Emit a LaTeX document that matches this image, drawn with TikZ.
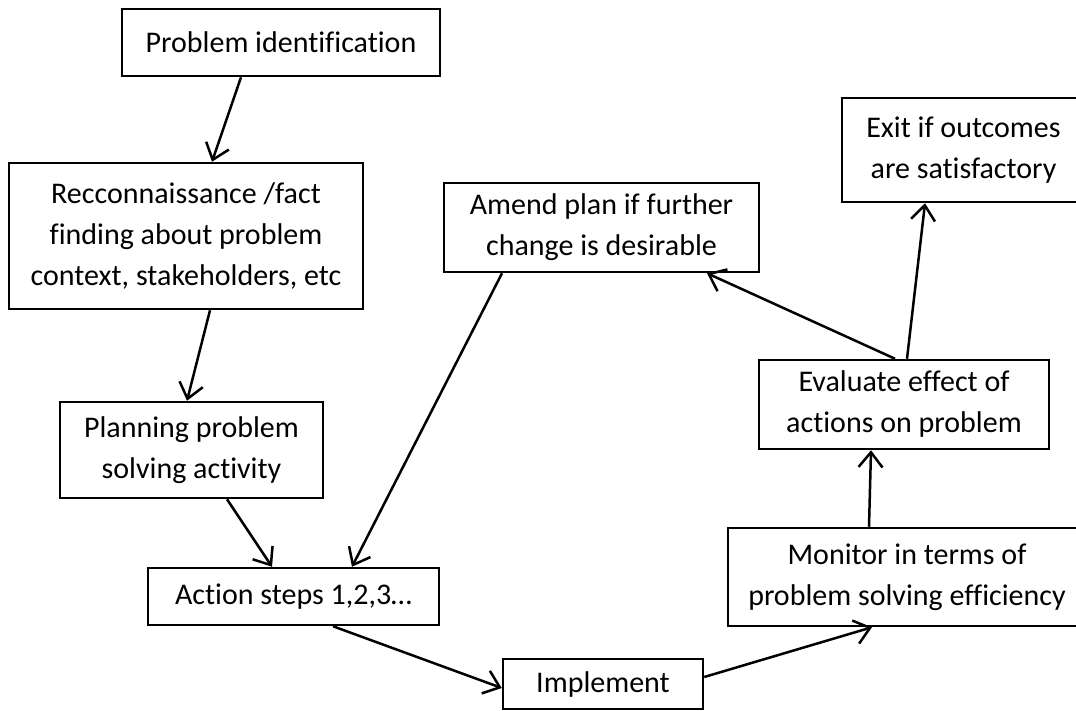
\documentclass[tikz,border=0pt]{standalone}
\usepackage{fontspec}
\setmainfont{Carlito}[Ligatures={NoCommon}]
\usepackage{tikz}
\usetikzlibrary{arrows.meta, positioning}

\begin{document}
\begin{tikzpicture}[
        x=1pt, y=-1pt,
        stage/.style={
            rectangle,
            draw=black,
            line width=2.5pt,
            inner sep=0pt,
            align=center,
            font=\fontsize{30}{41}\selectfont
        },
        arrow/.style={
            line width=2.5pt,
            -{Straight Barb[length=15pt, width=24pt, line width=2.5pt]}
        }
    ]
    \clip (0,0) rectangle (1076,711);

    % Nodes
    \node (probid) [stage, minimum width=318pt, minimum height=67pt] at (281,42.5) {Problem identification};
    \node (recon) [stage, minimum width=354pt, minimum height=146pt] at (186,236) {Recconnaissance /fact\\finding about problem\\context, stakeholders, etc};
    \node (plan) [stage, minimum width=263pt, minimum height=96pt] at (191.5,450) {Planning problem\\solving activity};
    \node (action) [stage, minimum width=291pt, minimum height=57pt] at (293.5,596.5) {Action steps 1,2,3\ldots};
    \node (impl) [stage, minimum width=200pt, minimum height=50pt] at (603,684) {Implement};
    \node (monitor) [stage, minimum width=358pt, minimum height=98pt] at (907,577) {Monitor in terms of\\problem solving efficiency};
    \node (eval) [stage, minimum width=290pt, minimum height=89pt] at (904,404.5) {Evaluate effect of\\actions on problem};
    \node (amend) [stage, minimum width=315pt, minimum height=89pt] at (601.5,227.5) {Amend plan if further\\change is desirable};
    \node (exit) [stage, minimum width=243pt, minimum height=104pt] at (963.5,150) {Exit if outcomes\\are satisfactory};

    % Arrows
    \draw [arrow] ([xshift=-40pt]probid.south) -- ([xshift=26pt]recon.north);
    \draw [arrow] ([xshift=24pt]recon.south) -- ([xshift=-4.5pt]plan.north);
    \draw [arrow] ([xshift=35.5pt]plan.south) -- ([xshift=-21.5pt]action.north);
    \draw [arrow] ([xshift=-99.5pt]amend.south) -- ([xshift=58.5pt]action.north);
    \draw [arrow] ([xshift=39.5pt]action.south) -- ([yshift=-4pt]impl.west);
    \draw [arrow] ([yshift=7pt]impl.east) -- ([xshift=-35pt]monitor.south);
    \draw [arrow] ([xshift=-38pt]monitor.north) -- ([xshift=-33pt]eval.south);
    \draw [arrow] ([xshift=-9pt]eval.north) -- ([xshift=105.5pt]amend.south);
    \draw [arrow] ([xshift=3pt]eval.north) -- ([xshift=-38.5pt]exit.south);

\end{tikzpicture}
\end{document}
